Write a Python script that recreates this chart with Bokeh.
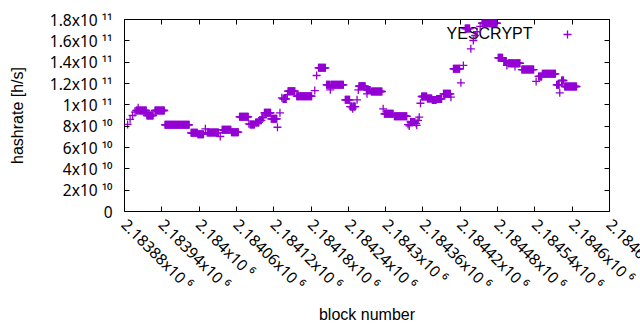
import math
from bokeh.plotting import figure
from bokeh.models import (Range1d, FixedTicker, LinearAxis, Label, Legend, LegendItem)
from bokeh.core.properties import value
from bokeh.embed import file_html
from bokeh.resources import INLINE

# ---- data: runs of consecutive blocks sharing one hashrate value (x 1e9 h/s)
run_start = [2183885, 2183889, 2183893, 2183897, 2183899, 2183902, 2183903, 2183916, 2183929, 2183945,
             2183987, 2183998, 2184010, 2184013, 2184034, 2184037, 2184052, 2184065, 2184080, 2184082,
             2184091, 2184097, 2184101, 2184105, 2184116, 2184126, 2184130, 2184133, 2184135, 2184142,
             2184143, 2184157, 2184186, 2184189, 2184192, 2184205, 2184211, 2184212, 2184235, 2184243,
             2184247, 2184248, 2184254, 2184256, 2184257, 2184269, 2184270, 2184271, 2184277, 2184296,
             2184298, 2184314, 2184336, 2184338, 2184340, 2184349, 2184350, 2184352, 2184354, 2184356,
             2184358, 2184367, 2184375, 2184382, 2184393, 2184405, 2184409, 2184421, 2184425, 2184428,
             2184437, 2184441, 2184444, 2184447, 2184452, 2184455, 2184481, 2184490, 2184495, 2184497,
             2184508, 2184509, 2184519, 2184542, 2184546, 2184552, 2184575, 2184580, 2184583, 2184588]
run_end = [2183885, 2183889, 2183893, 2183897, 2183901, 2183902, 2183915, 2183926, 2183944, 2183984,
           2183997, 2184007, 2184010, 2184031, 2184034, 2184051, 2184063, 2184079, 2184080, 2184089,
           2184096, 2184100, 2184103, 2184115, 2184125, 2184126, 2184130, 2184133, 2184140, 2184142,
           2184154, 2184181, 2184186, 2184189, 2184203, 2184210, 2184211, 2184232, 2184242, 2184246,
           2184247, 2184251, 2184254, 2184256, 2184267, 2184269, 2184270, 2184275, 2184294, 2184296,
           2184312, 2184334, 2184336, 2184338, 2184347, 2184349, 2184350, 2184352, 2184354, 2184356,
           2184366, 2184374, 2184381, 2184390, 2184404, 2184405, 2184419, 2184421, 2184425, 2184435,
           2184437, 2184441, 2184444, 2184447, 2184452, 2184479, 2184488, 2184494, 2184495, 2184507,
           2184508, 2184516, 2184538, 2184542, 2184551, 2184573, 2184579, 2184580, 2184586, 2184607]
run_value = [81.6, 86.3, 90.0, 93.1, 94.7, 97.2, 94.7, 90.0, 94.7, 81.3,
             73.8, 72.5, 77.5, 74.0, 70.3, 76.6, 74.4, 88.8, 82.2, 81.6,
             83.5, 85.5, 88.0, 92.5, 86.9, 79.0, 92.5, 106.6, 105.5, 109.5,
             112.8, 108.1, 113.4, 127.5, 134.7, 118.8, 114.1, 118.8, 104.7, 98.4,
             96.3, 98.4, 104.7, 114.0, 117.5, 114.0, 110.3, 114.0, 112.5, 96.3,
             91.6, 89.3, 81.5, 80.2, 84.0, 82.5, 80.8, 85.5, 88.4, 101.5,
             107.8, 106.0, 104.5, 105.5, 110.3, 107.2, 133.8, 120.6, 136.9, 171.5,
             152.5, 160.3, 165.0, 168.5, 173.5, 176.5, 144.1, 140.9, 136.9, 139.0,
             135.9, 139.0, 133.1, 121.9, 126.6, 129.1, 118.8, 111.3, 122.8, 117.2]

x_ticks = [2183880, 2183940, 2184000, 2184060, 2184120, 2184180, 2184240,
           2184300, 2184360, 2184420, 2184480, 2184540, 2184600, 2184660]
x_tick_labels = ["2.18388x10", "2.18394x10", "2.184x10", "2.18406x10", "2.18412x10",
                 "2.18418x10", "2.18424x10", "2.1843x10", "2.18436x10", "2.18442x10",
                 "2.18448x10", "2.18454x10", "2.1846x10", "2.18466x10"]
x_tick_exps = ["6", "6", "6", "6", "6", "6", "6", "6", "6", "6", "6", "6", "6", "6"]
y_ticks = [0, 2e10, 4e10, 6e10, 8e10, 1e11, 1.2e11, 1.4e11, 1.6e11, 1.8e11]
y_tick_labels = ["0", "2x10", "4x10", "6x10", "8x10", "1x10", "1.2x10", "1.4x10", "1.6x10", "1.8x10"]
y_tick_exps = ["", "10", "10", "10", "10", "11", "11", "11", "11", "11"]
series_name = "YESCRYPT"
x_title = "block number"
y_title = "hashrate [h/s]"

# ---- styles
COLOR = "#9400d3"
FONT = "Liberation Sans"
TICK_FONT = "Noto Sans"      # has a complete set of superscript digits
FS = "16px"
TICK_FS = "15.5px"
TEXT_COLOR = "#000000"
SUP = str.maketrans("0123456789", "⁰¹²³⁴⁵⁶⁷⁸⁹")


def tick_text(main, exp):
    return main if exp == "" else main + " " + exp.translate(SUP)


blocks, rates = [], []
for s, e, v in zip(run_start, run_end, run_value):
    for b in range(s, e + 1):
        blocks.append(b)
        rates.append(v * 1e9)

p = figure(width=640, height=330, output_backend="svg", toolbar_location=None,
           x_range=Range1d(x_ticks[0], x_ticks[-1]), y_range=Range1d(y_ticks[0], y_ticks[-1]),
           min_border_left=124, min_border_right=31, min_border_top=19, min_border_bottom=119)
p.background_fill_color = "white"
p.border_fill_color = "white"
p.outline_line_color = "black"
p.outline_line_width = 1
p.grid.visible = False


def style_axis(ax, ticks, overrides=None, standoff=0, title=None, title_standoff=0):
    ax.ticker = FixedTicker(ticks=ticks)
    ax.minor_tick_line_color = None
    ax.major_tick_in = 5
    ax.major_tick_out = 0
    ax.major_tick_line_color = "black"
    ax.axis_line_color = None
    if overrides is None:
        ax.major_label_overrides = {t: "" for t in ticks}
        ax.major_label_text_font_size = "1px"
        ax.major_label_standoff = 0
    else:
        ax.major_label_overrides = overrides
        ax.major_label_text_font = TICK_FONT
        ax.major_label_text_font_size = TICK_FS
        ax.major_label_text_color = TEXT_COLOR
        ax.major_label_standoff = standoff
    if title:
        ax.axis_label = title
        ax.axis_label_text_font = FONT
        ax.axis_label_text_font_size = FS
        ax.axis_label_text_font_style = "normal"
        ax.axis_label_text_color = TEXT_COLOR
        ax.axis_label_standoff = title_standoff


xlabels = [tick_text(m, e) for m, e in zip(x_tick_labels, x_tick_exps)]
ylabels = [tick_text(m, e) for m, e in zip(y_tick_labels, y_tick_exps)]

# Bokeh nudges the outermost label back inside the canvas; an extra empty
# label at the right edge keeps the real last label where it belongs (cut off).
edge = x_ticks[-1] - 1e-3
x_axis_ticks = x_ticks[:-1] + [edge, x_ticks[-1]]
x_over = dict(zip(x_ticks[:-1], xlabels[:-1]))
x_over[edge] = xlabels[-1]
x_over[x_ticks[-1]] = ""

style_axis(p.xaxis[0], x_axis_ticks, x_over, 10, x_title, 0)
p.xaxis[0].major_label_orientation = -math.pi / 4
style_axis(p.yaxis[0], y_ticks, dict(zip(y_ticks, ylabels)), 12, y_title, 21)

ax_r = LinearAxis()
style_axis(ax_r, y_ticks)
p.add_layout(ax_r, "right")
ax_t = LinearAxis()
style_axis(ax_t, x_ticks)
p.add_layout(ax_t, "above")

# key text (drawn beneath the points, like the original)
p.add_layout(Label(x=x_ticks[-1], y=y_ticks[-1], x_offset=-77, y_offset=-13.5,
                   text=series_name, text_align="right", text_baseline="middle",
                   text_font=FONT, text_font_size=FS, text_color=TEXT_COLOR,
                   level="underlay"))

r = p.scatter(blocks, rates, marker="cross", size=8, line_color=COLOR, line_width=1.3)

legend = Legend(items=[LegendItem(label=value(" "), renderers=[r])], location=(432.7, 167.5),
                padding=0, margin=0, spacing=0, glyph_width=20, glyph_height=20,
                label_width=0, label_height=20, label_standoff=0,
                border_line_color=None, background_fill_alpha=0,
                label_text_font_size="1px")
p.add_layout(legend)

open("out.html", "w").write(file_html(p, INLINE))
